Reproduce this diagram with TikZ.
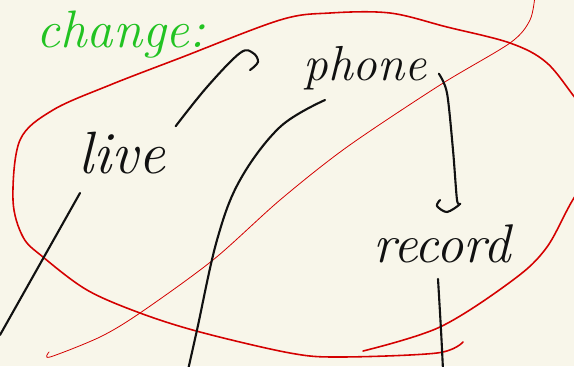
\documentclass[tikz,border=0pt]{standalone}
\usepackage{tikz}
\usetikzlibrary{calc,positioning,arrows.meta}
\definecolor{paper}{HTML}{F8F6EA}
\definecolor{pen}{HTML}{111111}
\definecolor{redpen}{HTML}{D40000}
\definecolor{greenpen}{HTML}{22C322}
\tikzset{
  word/.style={inner sep=0pt,anchor=base,text=pen,font=\fontsize{#1}{#1}\selectfont\itshape},
  ink/.style={pen,line width=1.2pt,line cap=round,line join=round},
  redink/.style={redpen,line width=0.9pt,line cap=round},
  thinred/.style={redpen,line width=0.45pt,line cap=round},
}

\begin{document}
\begin{tikzpicture}[x=0.02cm,y=-0.02cm]
\fill[paper] (0,0) rectangle (574,366);
\useasboundingbox (0,0) rectangle (574,366);
\clip (0,0) rectangle (574,366);
% words
\node[word=30pt,text=greenpen] (chg) at (121,47) {change:};
\node[word=34pt] (live) at (122,173) {live};
\node[word=28pt] (phone) at (365,80) {phone};
\node[word=31pt] (rec) at (442,262) {record};
% the red loop round them
\draw[redink] plot[smooth,tension=0.55] coordinates {(363,351) (440,327) (513,280) (547,247) (578,192) (620,150) (580,104) (547,63) (510,43) (447,27) (390,13) (330,13) (280,20) (180,58) (110,85) (53,110) (20,140) (13,200) (23,237) (43,257) (87,290) (140,313) (200,332) (290,353) (340,357) (437,353) (463,342)};
% thin red stroke across
\draw[thinred] plot[smooth,tension=0.5] coordinates {(535,-5) (530,20) (510,43) (440,85) (347,147) (280,200) (213,260) (140,313) (100,337) (50,357) (49,352)};
% hook from live up to phone
\coordinate (hk) at (250,70);
\draw[ink] plot[smooth,tension=0.6] coordinates {($(live.north east)+(10,-5)$) (207,87) (240,53) (253,53) (258,62) (hk)};
% phone down to record
\coordinate (rk) at (440,200);
\draw[ink] plot[smooth,tension=0.5] coordinates {($(phone.east)+(12,6)$) (447,93) (453,150) (457,200) (460,204) (447,212) (437,206) (rk)};
% loose strokes
\draw[ink] (80,193) -- (0,335);
\draw[ink] plot[smooth,tension=0.6] coordinates {(325,100) (280,127) (240,180) (217,240) (197,330) (188,370)};
\draw[ink] plot[smooth] coordinates {($(rec.south)+(-4,16)$) (441,330) (443,370)};
\end{tikzpicture}
\end{document}
